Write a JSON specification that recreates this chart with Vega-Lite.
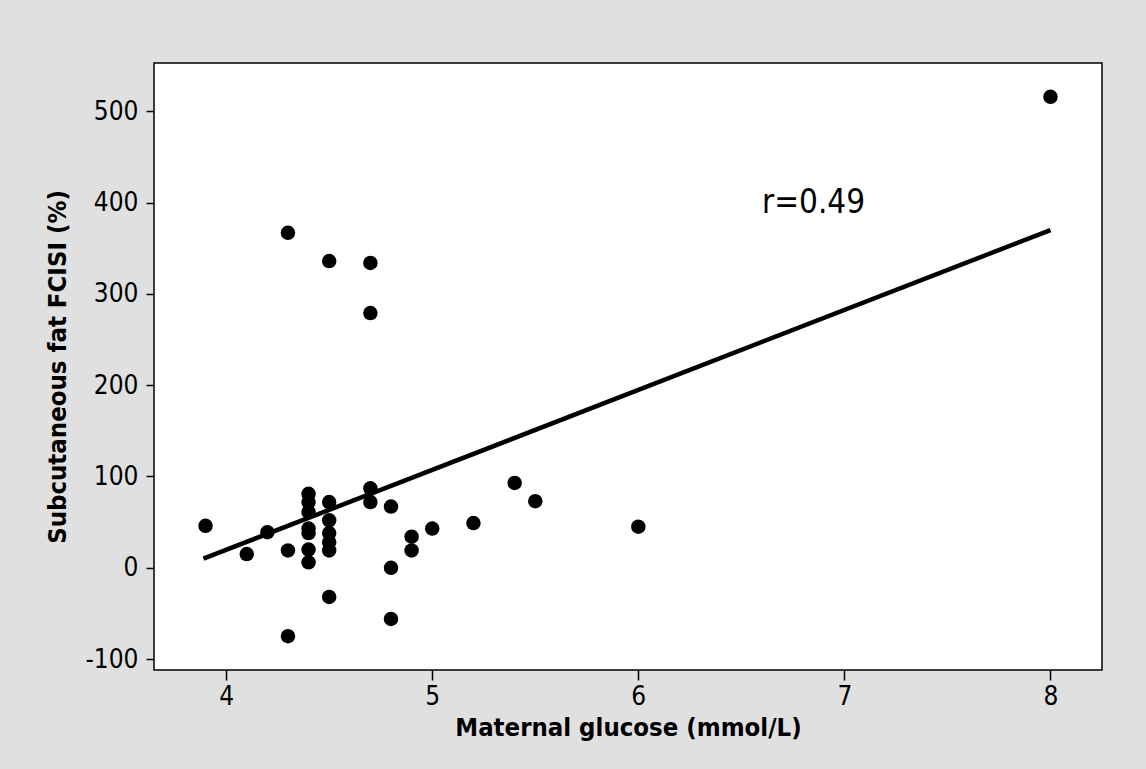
{
  "$schema": "https://vega.github.io/schema/vega-lite/v6.json",
  "width": 948,
  "height": 607,
  "autosize": {"type": "none"},
  "padding": {"left": 154, "top": 63, "right": 44, "bottom": 99},
  "background": "#e0e0e0",
  "config": {
    "view": {"fill": "white", "stroke": "#000000", "strokeWidth": 1.5},
    "font": "DejaVu Sans Condensed",
    "axis": {
      "domain": false,
      "grid": false,
      "tickColor": "#000000",
      "tickWidth": 1.5,
      "labelColor": "#000000",
      "labelFont": "DejaVu Sans Condensed",
      "labelFontSize": 26,
      "labelExpr": "'' + datum.value",
      "titleFont": "DejaVu Sans Condensed",
      "titleFontSize": 25.5,
      "titleFontWeight": "bold",
      "titleColor": "#000000"
    }
  },
  "datasets": {
    "points": [
      {"glucose": 3.9, "fat": 46},
      {"glucose": 4.1, "fat": 15},
      {"glucose": 4.2, "fat": 39},
      {"glucose": 4.3, "fat": 19},
      {"glucose": 4.3, "fat": -75},
      {"glucose": 4.3, "fat": 367},
      {"glucose": 4.4, "fat": 81},
      {"glucose": 4.4, "fat": 72},
      {"glucose": 4.4, "fat": 61},
      {"glucose": 4.4, "fat": 43},
      {"glucose": 4.4, "fat": 38},
      {"glucose": 4.4, "fat": 20},
      {"glucose": 4.4, "fat": 6},
      {"glucose": 4.5, "fat": 72},
      {"glucose": 4.5, "fat": 52},
      {"glucose": 4.5, "fat": 38},
      {"glucose": 4.5, "fat": 28},
      {"glucose": 4.5, "fat": 19},
      {"glucose": 4.5, "fat": -32},
      {"glucose": 4.5, "fat": 336},
      {"glucose": 4.7, "fat": 87},
      {"glucose": 4.7, "fat": 72},
      {"glucose": 4.7, "fat": 334},
      {"glucose": 4.7, "fat": 279},
      {"glucose": 4.8, "fat": 67},
      {"glucose": 4.8, "fat": 0},
      {"glucose": 4.8, "fat": -56},
      {"glucose": 4.9, "fat": 34},
      {"glucose": 4.9, "fat": 19},
      {"glucose": 5.0, "fat": 43},
      {"glucose": 5.2, "fat": 49},
      {"glucose": 5.4, "fat": 93},
      {"glucose": 5.5, "fat": 73},
      {"glucose": 6.0, "fat": 45},
      {"glucose": 8.0, "fat": 516}
    ],
    "fit": [
      {"glucose": 3.89, "fat": 10},
      {"glucose": 8.0, "fat": 370}
    ],
    "note": [
      {"glucose": 6.6, "fat": 389, "label": "r=0.49"}
    ]
  },
  "encoding": {
    "x": {
      "field": "glucose",
      "type": "quantitative",
      "scale": {"domain": [3.65, 8.25], "nice": false, "zero": false},
      "axis": {
        "title": "Maternal glucose (mmol/L)",
        "values": [4, 5, 6, 7, 8],
        "tickSize": 10,
        "labelPadding": 3,
        "titlePadding": 6
      }
    },
    "y": {
      "field": "fat",
      "type": "quantitative",
      "scale": {"domain": [-112, 553], "nice": false, "zero": false},
      "axis": {
        "title": "Subcutaneous fat FCISI (%)",
        "values": [-100, 0, 100, 200, 300, 400, 500],
        "tickSize": 8,
        "labelPadding": 8,
        "titlePadding": 14
      }
    }
  },
  "layer": [
    {
      "data": {"name": "fit"},
      "mark": {"type": "line", "color": "#000000", "strokeWidth": 4.5, "strokeCap": "butt"}
    },
    {
      "data": {"name": "points"},
      "mark": {"type": "circle", "color": "#000000", "opacity": 1, "size": 210}
    },
    {
      "data": {"name": "note"},
      "mark": {"type": "text", "align": "left", "baseline": "alphabetic", "fontSize": 33, "font": "DejaVu Sans Condensed", "color": "#000000"},
      "encoding": {"text": {"field": "label"}}
    }
  ]
}
